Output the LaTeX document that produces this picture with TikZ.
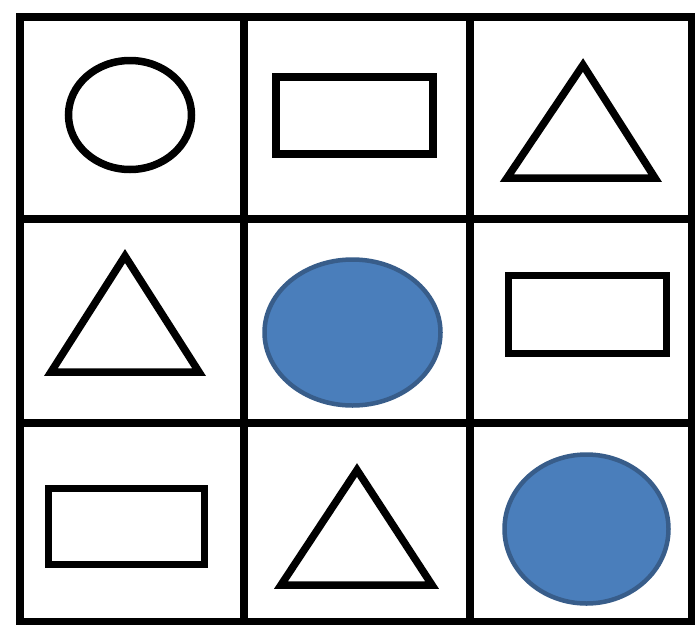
\documentclass[tikz,border=0pt]{standalone}
\usepackage{tikz}
\usetikzlibrary{shapes.geometric}

\definecolor{shapeblue}{RGB}{74,126,187}
\definecolor{shapeedge}{RGB}{56,93,138}

\begin{document}
\begin{tikzpicture}[
    x=1pt, y=1pt,
    gridline/.style={draw=black, line width=7.5pt, line cap=rect},
    outline/.style={draw=black, line width=7.5pt, fill=white, inner sep=0pt},
    disc/.style={ellipse, draw=shapeedge, fill=shapeblue, line width=4.5pt, inner sep=0pt},
    tri/.style={draw=black, line width=7.5pt, line join=miter},
]

\useasboundingbox (0,0) rectangle (695,-624);

% grid line positions
\def\colA{20}    % left
\def\colB{244}
\def\colC{470}
\def\colD{692}   % right
\def\rowA{-17}   % top
\def\rowB{-219}
\def\rowC{-423}
\def\rowD{-622}  % bottom

% grid
\foreach \x in {\colA, \colB, \colC, \colD}
    \draw[gridline] (\x,\rowA) -- (\x,\rowD);
\foreach \y in {\rowA, \rowB, \rowC, \rowD}
    \draw[gridline] (\colA,\y) -- (\colD,\y);

% row 1
\node[outline, ellipse, minimum width=123pt, minimum height=109pt] (circ1) at (130,-115) {};
\node[outline, rectangle, minimum width=157pt, minimum height=77pt] (rect1) at (354.5,-115.5) {};
\draw[tri] (583,-65) coordinate (tri1) -- (655,-178) -- (507,-178) -- cycle;

% row 2
\draw[tri] (125,-256) coordinate (tri2) -- (199,-372) -- (51,-372) -- cycle;
\node[disc, minimum width=176pt, minimum height=146pt] (disc1) at (352.5,-332.5) {};
\node[outline, rectangle, minimum width=158pt, minimum height=78pt] (rect2) at (587.5,-314.5) {};

% row 3
\node[outline, rectangle, minimum width=156pt, minimum height=76pt] (rect3) at (126.5,-526.5) {};
\draw[tri] (357,-470) coordinate (tri3) -- (432,-585) -- (281,-585) -- cycle;
\node[disc, minimum width=164pt, minimum height=149pt] (disc2) at (586.5,-529) {};

\end{tikzpicture}
\end{document}
